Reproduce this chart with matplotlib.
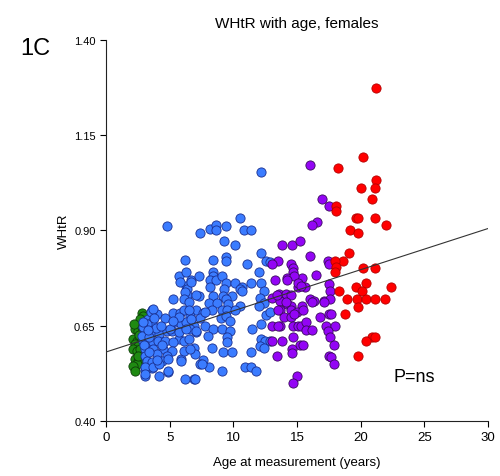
import matplotlib
matplotlib.use("Agg")
import matplotlib.pyplot as plt
import numpy as np

plt.rcParams['font.family'] = ['Liberation Sans', 'DejaVu Sans']

# age (years) and WHtR, one pair of lists per age group
age_green = [2.8, 2.9, 2.7, 2.3, 2.5, 2.8, 2.1, 2.4, 2.7, 2.3, 2.5, 2.1, 2.4,
             2.7, 2.3, 2.5, 2.4, 2.1, 2.3, 2.5, 2.6, 2.2]
whtr_green = [0.684, 0.676, 0.668, 0.641, 0.637, 0.646, 0.615, 0.611, 0.615,
              0.602, 0.598, 0.589, 0.584, 0.589, 0.563, 0.558, 0.550, 0.544,
              0.532, 0.571, 0.625, 0.655]

age_blue = [12.2, 10.5, 4.8, 7.4, 8.2, 8.6, 8.6, 9.4, 10.8, 11.4, 9.3, 10.1,
            12.2, 12.6, 6.2, 8.4, 9.4, 9.4, 11.1, 12.0, 5.7, 6.3, 6.7, 7.3,
            8.4, 8.4, 8.2, 8.6, 9.1, 9.4, 10.1, 10.7, 11.4, 12.2, 6.3,
            9.3, 8.2, 8.4, 7.3, 9.2, 9.9, 10.5, 12.4,
            10.7, 8.1, 8.7, 9.4, 9.6, 10.5, 12.1, 12.4, 12.0,
            7.1, 7.6, 8.3, 9.1, 9.5, 10.1, 6.6, 7.4, 9.0, 9.4, 9.7, 12.6, 12.2,
            6.9, 7.8, 8.4, 9.1, 9.7, 7.1, 8.0, 9.5, 9.5, 11.5, 12.2, 12.5, 12.9,
            12.1, 12.4, 6.9, 8.3, 9.2, 9.9, 11.4, 7.6, 7.4, 8.1, 9.1, 10.9,
            11.4, 11.8, 6.9,
            6.2, 7.0, 4.2, 4.9, 3.1, 3.6, 3.1, 5.9, 5.3, 6.4, 6.4, 5.8, 6.7,
            6.2, 6.1, 6.5, 7.1, 3.6, 4.0, 4.6, 5.3, 5.8, 6.1, 6.5, 3.3, 3.6,
            3.2, 5.4, 5.9, 6.3, 6.7, 6.6, 7.1, 3.1, 3.7, 4.2, 4.8, 5.2, 5.7,
            6.1, 6.5, 2.9, 3.3, 3.7, 4.1, 4.6, 5.3, 3.1, 3.7, 4.5, 5.2, 7.0,
            4.0, 4.8, 3.1, 3.2, 3.6, 4.4, 4.9, 5.9, 3.1, 3.7, 4.2, 4.9, 3.1,
            3.5, 3.7, 2.9, 2.8, 5.0, 5.7, 6.3, 6.1, 6.6, 7.5, 7.8, 5.7, 5.3,
            12.9, 12.9,
            3.4, 3.9, 4.4, 3.0, 3.4, 4.0, 3.3, 3.8, 4.3, 2.9]
whtr_blue = [1.053, 0.932, 0.912, 0.892, 0.903, 0.913, 0.902, 0.912, 0.902,
             0.902, 0.872, 0.862, 0.841, 0.821, 0.822, 0.822, 0.831, 0.821,
             0.812, 0.792, 0.781, 0.790, 0.771, 0.781, 0.792, 0.781, 0.771,
             0.771, 0.781, 0.761, 0.761, 0.751, 0.761, 0.761, 0.753,
             0.747, 0.751, 0.729, 0.729, 0.729, 0.729, 0.747, 0.742,
             0.742, 0.710, 0.710, 0.720, 0.707, 0.703, 0.722, 0.710, 0.703,
             0.690, 0.684, 0.690, 0.690, 0.690, 0.690, 0.676, 0.670, 0.670,
             0.676, 0.663, 0.678, 0.654,
             0.650, 0.650, 0.641, 0.641, 0.637, 0.633, 0.624, 0.620, 0.607,
             0.641, 0.615, 0.611, 0.611, 0.598, 0.591, 0.591, 0.591, 0.580,
             0.580, 0.580, 0.561, 0.550, 0.541, 0.532, 0.541, 0.541, 0.532,
             0.510,
             0.510, 0.510, 0.519, 0.529, 0.519, 0.538, 0.535, 0.563, 0.720,
             0.747, 0.731, 0.764, 0.766,
             0.739, 0.720, 0.712, 0.731, 0.690, 0.681, 0.670, 0.684, 0.684,
             0.690, 0.690, 0.668, 0.659, 0.654, 0.659, 0.654, 0.659, 0.668,
             0.641, 0.637, 0.633, 0.633, 0.628, 0.637, 0.637, 0.615, 0.611,
             0.615, 0.611, 0.607, 0.607, 0.611, 0.611, 0.607, 0.589, 0.589,
             0.589, 0.584, 0.576, 0.576, 0.571, 0.571, 0.558, 0.554, 0.558,
             0.563, 0.558, 0.541, 0.541, 0.550, 0.532, 0.523,
             0.687, 0.694, 0.646, 0.624, 0.641, 0.633, 0.641, 0.584, 0.589,
             0.550, 0.685, 0.672, 0.663,
             0.817, 0.685,
             0.620, 0.645, 0.600, 0.600, 0.580, 0.560, 0.640, 0.670, 0.650,
             0.660]

age_purple = [16.0, 17.0, 17.5, 16.6, 16.2, 13.8, 14.6, 15.2, 16.0, 13.5,
              14.5, 17.4, 17.5, 14.7, 14.7, 16.5, 14.2, 15.4, 13.0, 13.3,
              15.1, 15.6, 17.5, 17.6, 13.6, 14.1, 14.5, 13.0, 16.0, 16.3,
              17.1, 17.6, 13.7, 14.2, 14.5, 15.4, 13.7, 14.1, 14.5, 15.0,
              15.5, 16.2, 17.1, 14.0, 14.5, 14.8, 16.8, 17.5, 17.7, 13.0,
              13.7, 14.7, 15.1, 15.3, 15.7, 15.7, 16.2, 17.3, 18.0, 17.4,
              13.0, 13.8, 14.7, 15.2, 15.5, 14.6, 14.6, 17.6, 17.9, 13.4,
              17.5, 17.7, 17.9, 15.0, 14.7, 13.4, 13.5, 13.5, 14.8, 15.1,
              14.2, 15.3]
whtr_purple = [1.073, 0.983, 0.963, 0.922, 0.913, 0.863, 0.863, 0.871, 0.832,
               0.821, 0.812, 0.821, 0.812, 0.801, 0.790, 0.783, 0.775, 0.775,
               0.812, 0.771, 0.751, 0.751, 0.760, 0.742, 0.733, 0.733, 0.731,
               0.722, 0.720, 0.716, 0.716, 0.720, 0.716, 0.707, 0.703, 0.703,
               0.690, 0.712, 0.690, 0.685, 0.690, 0.712, 0.712, 0.672, 0.672,
               0.681, 0.672, 0.681, 0.681, 0.650, 0.650, 0.650, 0.650, 0.648,
               0.659, 0.640, 0.640, 0.650, 0.650, 0.637, 0.611, 0.611, 0.620,
               0.600, 0.600, 0.589, 0.578, 0.620, 0.600, 0.570, 0.570, 0.567,
               0.550, 0.517, 0.500, 0.731, 0.690, 0.650, 0.780, 0.762, 0.771,
               0.755]

age_red = [21.2, 20.2, 18.2, 21.2, 21.1, 20.0, 20.9, 18.1, 18.1, 19.6, 19.8,
           21.1, 22.0, 19.2, 19.8, 19.1, 18.6, 18.0, 18.1, 18.0, 20.2, 21.1,
           20.4, 19.6, 20.1, 22.4, 18.3, 18.9, 19.7, 20.4, 21.1, 21.9, 19.8,
           18.8, 20.9, 21.1, 20.4, 19.8]
whtr_red = [1.274, 1.093, 1.063, 1.033, 1.012, 1.012, 0.983, 0.963, 0.950,
            0.933, 0.933, 0.933, 0.913, 0.902, 0.893, 0.842, 0.821, 0.821,
            0.803, 0.792, 0.802, 0.802, 0.762, 0.751, 0.741, 0.751, 0.741,
            0.720, 0.720, 0.720, 0.720, 0.720, 0.700, 0.680, 0.621, 0.621,
            0.610, 0.570]

# regression line as drawn in the figure
fit_intercept = 0.581
fit_slope = 0.0108

fig = plt.figure(figsize=(5.0, 4.77), dpi=100)
ax = fig.add_axes([0.212, 0.1153, 0.764, 0.799])

groups = [
    (age_green, whtr_green, '#1f8a12', '#0d3d08'),
    (age_blue, whtr_blue, '#3b7cff', '#1a2f8f'),
    (age_purple, whtr_purple, '#9305f5', '#3a0a5c'),
    (age_red, whtr_red, '#ff0000', '#b30000'),
]
for ages, vals, fc, ec in groups:
    ax.scatter(ages, vals, s=44, c=fc, edgecolors=ec, linewidths=0.6, zorder=2)

xs = np.array([0, 30])
ax.plot(xs, fit_intercept + fit_slope * xs, color='#333333', lw=0.8, zorder=3)

ax.set_xlim(0, 30)
ax.set_ylim(0.40, 1.40)
ax.set_xticks([0, 5, 10, 15, 20, 25, 30])
ax.set_yticks([0.40, 0.65, 0.90, 1.15, 1.40])
ax.set_yticklabels(['0.40', '0.65', '0.90', '1.15', '1.40'], fontsize=8)
ax.tick_params(axis='x', labelsize=9.5, direction='out', length=4, width=0.8)
ax.tick_params(axis='y', direction='out', length=4, width=0.8)
for side in ['top', 'right']:
    ax.spines[side].set_visible(False)
for side in ['left', 'bottom']:
    ax.spines[side].set_linewidth(0.8)
    ax.spines[side].set_color('#222222')

ax.set_xlabel('Age at measurement (years)', fontsize=9.5, labelpad=9)
ax.set_ylabel('WHtR', fontsize=9.5, labelpad=3)
ax.set_title('WHtR with age, females', fontsize=11, pad=9)
fig.text(0.04, 0.885, '1C', fontsize=17)
ax.text(22.6, 0.505, 'P=ns', fontsize=13)

fig.savefig('out.png', dpi=100)
